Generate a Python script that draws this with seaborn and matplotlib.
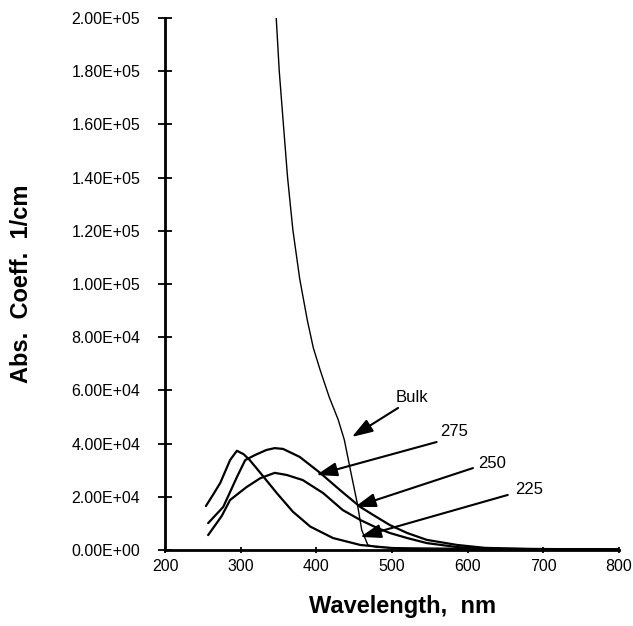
import numpy as np
import pandas as pd
import seaborn as sns
import matplotlib
matplotlib.use("Agg")
import matplotlib.pyplot as plt
from matplotlib.ticker import FuncFormatter

# values (wavelength nm, abs. coeff 1/cm)
wl_bulk = [347, 351, 356, 362, 369, 378, 388, 396, 405, 417, 429, 437, 445, 454, 460, 468, 480, 520, 600, 700, 800]
abs_bulk = [200000, 180000, 161700, 140000, 120300, 102000, 86500, 76000, 67700, 57500, 48900, 41400,
            30100, 17700, 7500, 1900, 1000, 800, 600, 500, 400]

wl_275 = [257, 277, 295, 306, 319, 334, 345, 356, 378, 405, 431, 458, 475, 497, 520, 546, 586, 623, 682, 800]
abs_275 = [10100, 16200, 27400, 33800, 35700, 37600, 38300, 38000, 35000, 29000, 22600, 16200,
           13200, 9400, 6400, 3800, 1900, 800, 400, 200]

wl_250 = [257, 275, 286, 308, 326, 345, 361, 382, 409, 435, 458, 478, 497, 520, 546, 586, 630, 800]
abs_250 = [5600, 12800, 18800, 23700, 27000, 29000, 28200, 26300, 21400, 15000, 11300, 8600,
           6400, 4500, 2600, 1100, 400, 100]

wl_225 = [254, 264, 273, 286, 295, 304, 312, 326, 348, 369, 392, 422, 458, 511, 560, 620, 800]
abs_225 = [16500, 21000, 25200, 33800, 37300, 36000, 33800, 29000, 21300, 14400, 8800, 4500,
           1900, 400, 200, 100, 100]

series_names = ["Bulk", "275", "250", "225"]
# label text position, arrow tail, arrow tip (data coords)
label_pos = [(505, 57500), (563, 44400), (614, 32700), (663, 22600)]
arrow_tail = [(508, 53400), (559, 40600), (607, 30800), (653, 20700)]
arrow_tip = [(447, 42500), (400, 28200), (451, 16200), (458, 4900)]

x_ticks = [200, 300, 400, 500, 600, 700, 800]
y_ticks = [0, 20000, 40000, 60000, 80000, 100000, 120000, 140000, 160000, 180000, 200000]

sns.set_style("ticks")
plt.rcParams["font.family"] = ["Liberation Sans", "DejaVu Sans"]
plt.rcParams["text.color"] = "black"
plt.rcParams["axes.labelcolor"] = "black"

frames = []
for name, wl, ab in [("Bulk", wl_bulk, abs_bulk), ("275", wl_275, abs_275),
                     ("250", wl_250, abs_250), ("225", wl_225, abs_225)]:
    frames.append(pd.DataFrame({"wavelength": wl, "abs": ab, "sample": name}))
df = pd.concat(frames, ignore_index=True)

fig = plt.figure(figsize=(6.33, 6.26), dpi=100)
ax = fig.add_axes([165 / 633, 1 - 550 / 626, 454 / 633, 532 / 626])

for name in series_names:
    sub = df[df["sample"] == name]
    lw = 1.0 if name == "Bulk" else 1.6
    sns.lineplot(data=sub, x="wavelength", y="abs", color="black", lw=lw,
                 sort=False, estimator=None, ax=ax, legend=False)

for (tx, ty), tail, tip, name in zip(label_pos, arrow_tail, arrow_tip, series_names):
    ax.annotate("", xy=tip, xytext=tail,
                arrowprops=dict(arrowstyle="-|>,head_length=0.9,head_width=0.3",
                                color="black", lw=1.5, shrinkA=0, shrinkB=0,
                                mutation_scale=14))
    ax.text(tx, ty, name, ha="left", va="center", fontsize=12, color="black")

ax.set_xlim(200, 800)
ax.set_ylim(0, 200000)
ax.set_xticks(x_ticks)
ax.set_yticks(y_ticks)
ax.yaxis.set_major_formatter(FuncFormatter(lambda v, p: f"{v:.2E}"))

for s in ["top", "right"]:
    ax.spines[s].set_visible(False)
for s in ["left", "bottom"]:
    ax.spines[s].set_linewidth(2)
    ax.spines[s].set_color("black")

ax.tick_params(axis="y", direction="inout", length=9.5, width=1.3, pad=13, labelsize=11.5, colors="black")
ax.tick_params(axis="x", direction="inout", length=5, width=1.3, pad=4, labelsize=11.5, colors="black")

ax.set_xlabel("Wavelength,  nm", fontsize=17, fontweight="bold", color="black")
ax.set_ylabel("Abs.  Coeff.  1/cm", fontsize=17, fontweight="bold", color="black")
ax.xaxis.set_label_coords(0.524, -0.085)
ax.yaxis.set_label_coords(-0.29, 0.5)

fig.savefig("out.png", dpi=100)
